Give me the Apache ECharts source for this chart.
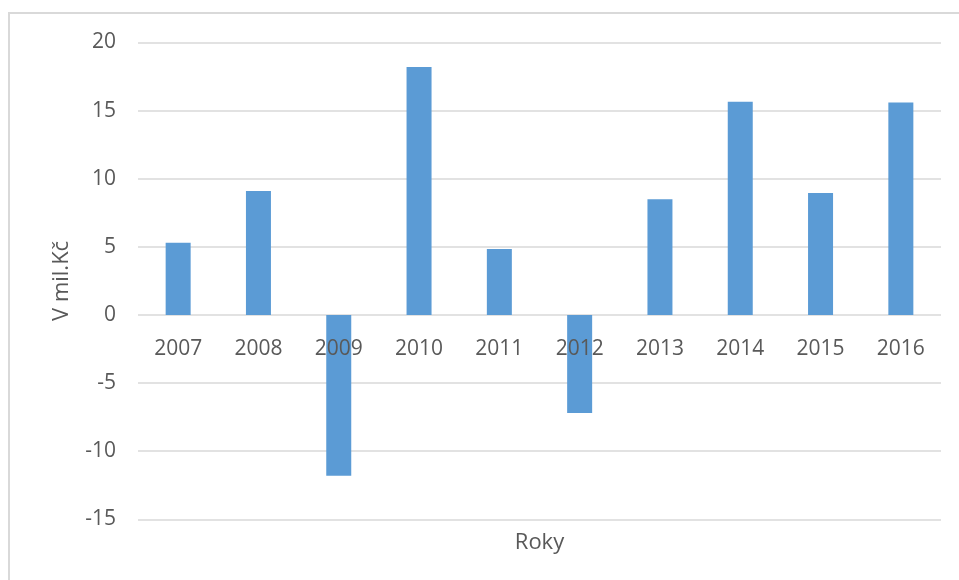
<!DOCTYPE html>
<html>
<head>
<meta charset="utf-8">
<script src="https://cdn.jsdelivr.net/npm/echarts@6/dist/echarts.min.js"></script>
<style>
  html, body { margin: 0; padding: 0; background: #fff; }
  #chart { width: 959px; height: 580px; }
</style>
</head>
<body>
<div id="chart"></div>
<script>
// Annual result in millions of CZK
const years = ['2007', '2008', '2009', '2010', '2011', '2012', '2013', '2014', '2015', '2016'];
const values = [5.3, 9.1, -11.8, 18.2, 4.85, -7.2, 8.5, 15.65, 8.95, 15.6];
const yTicks = { min: -15, max: 20, step: 5 };

const textColor = '#595959';
const gridColor = '#d9d9d9';
const font = 'Open Sans';

const gridBox = { left: 138, right: 18, top: 42.5, bottom: 60.7 };
const plotHeight = 580 - gridBox.top - gridBox.bottom;
// lift the category axis up to the zero line
const zeroOffset = -(0 - yTicks.min) / (yTicks.max - yTicks.min) * plotHeight;

const chart = echarts.init(document.getElementById('chart'));
chart.setOption({
  animation: false,
  grid: gridBox,
  graphic: [
    {
      type: 'rect',
      shape: { x: 9, y: 13, width: 1200, height: 900 },
      style: { fill: 'none', stroke: gridColor, lineWidth: 2 },
      silent: true
    },
    {
      type: 'text',
      style: {
        text: 'Roky', x: 539.5, y: 543, align: 'center', verticalAlign: 'middle',
        fill: textColor, font: '22px "' + font + '"'
      },
      silent: true
    }
  ],
  xAxis: {
    type: 'category',
    data: years,
    offset: zeroOffset,
    z: 10,
    axisLine: { show: false, onZero: false },
    axisTick: { show: false },
    axisLabel: { color: textColor, fontSize: 21, fontFamily: font, margin: 24 }
  },
  yAxis: {
    type: 'value',
    min: yTicks.min,
    max: yTicks.max,
    interval: yTicks.step,
    name: 'V mil.Kč',
    nameLocation: 'middle',
    nameGap: 65,
    nameTextStyle: { color: textColor, fontSize: 22, fontFamily: font },
    axisLine: { show: false },
    axisTick: { show: false },
    axisLabel: { color: textColor, fontSize: 21, fontFamily: font, margin: 22 },
    splitLine: { lineStyle: { color: gridColor, width: 1.5 } }
  },
  series: [{
    type: 'bar',
    data: values,
    barWidth: 25,
    itemStyle: { color: '#5b9bd5' }
  }]
});
</script>
</body>
</html>
